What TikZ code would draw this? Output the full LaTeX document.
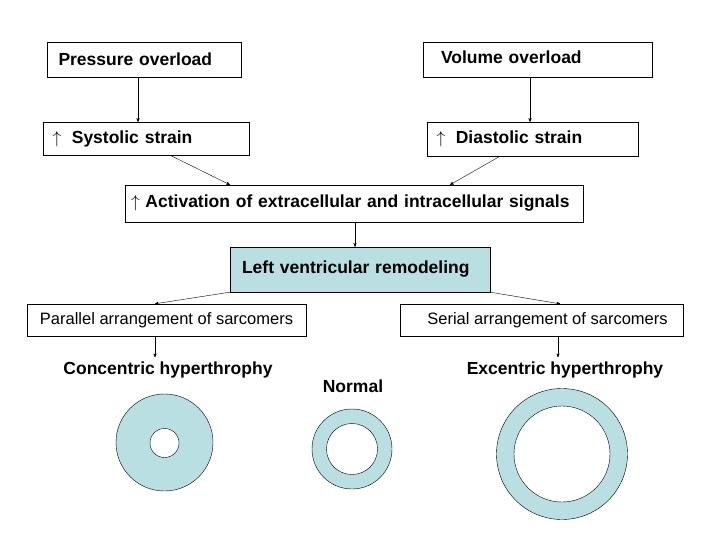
\documentclass[tikz,border=0pt]{standalone}
\usepackage{fontspec}
\setmainfont{Liberation Sans}
\usepackage{xcolor}
\usepackage{tikz}
\usetikzlibrary{arrows,positioning}
\definecolor{wall}{HTML}{B9DFE3}

\begin{document}
\begin{tikzpicture}[
    x=1pt, y=-1pt,
    >=stealth',
    box/.style={draw, inner ysep=0pt, align=left, font=\fontsize{17.5}{19}\selectfont\bfseries},
    thin box/.style={draw, inner ysep=0pt, font=\fontsize{16.5}{18}\selectfont},
    label/.style={font=\fontsize{17.5}{19}\selectfont\bfseries},
    ring/.style={draw, fill=wall}
]
    \useasboundingbox (0,0) rectangle (720,540);

    % Boxes
    \node (pressure) [box, text width=172, inner xsep=11, minimum height=35] at (144.5,59.5) {Pressure overload};
    \node (volume) [box, text width=193, inner xsep=18, minimum height=35] at (537.5,59.5) {\raisebox{4pt}{Volume overload}};
    \node (systolic) [box, text width=188, inner xsep=9, minimum height=33] at (146.5,138.5) {$\uparrow$\; Systolic strain};
    \node (diastolic) [box, text width=193, inner xsep=9, minimum height=34] at (533,139) {$\uparrow$\; Diastolic strain};
    \node (signals) [box, text width=446, inner xsep=6, minimum height=37] at (354,203.5) {$\uparrow$ Activation of extracellular and intracellular signals};
    \node (remodel) [box, fill=wall, text width=236, inner xsep=12, minimum height=45] at (360,269.5) {\raisebox{4pt}{Left ventricular remodeling}};
    \node (parallel) [thin box, minimum width=279, minimum height=32] at (166.5,320) {Parallel arrangement of sarcomers};
    \node (serial) [thin box, minimum width=283, minimum height=32] at (541.5,320) {\hspace{12pt}Serial arrangement of sarcomers};
    \node (concentric) [label] at (168,370) {Concentric hyperthrophy};
    \node (normal) [label] at (353,386) {Normal};
    \node (excentric) [label] at (565,370) {Excentric hyperthrophy};

    % Arrows
    \coordinate (s1) at (170,155); \coordinate (s2) at (230,185);
    \coordinate (d1) at (500,156); \coordinate (d2) at (450,185);
    \draw[->] (pressure.south -| 138,0) -- (systolic.north -| 138,0);
    \draw[->] (volume.south -| 530,0) -- (diastolic.north -| 530,0);
    \draw[->] (systolic.south -| s1) -- (signals.north -| s2);
    \draw[->] (diastolic.south -| d1) -- (signals.north -| d2);
    \draw[->] (signals.south -| 355,0) -- (remodel.north -| 355,0);
    \draw[->] (remodel.south west) -- (parallel.north -| 155,0);
    \draw[->] (remodel.south east) -- (serial.north -| 560,0);
    \draw[->] (parallel.south -| 155,0) -- ++(0,21) coordinate (c1);
    \draw[->] (serial.south -| 558,0) -- ++(0,21) coordinate (c2);

    % Hearts
    \draw[ring] (164.5,442.5) circle (48.5);
    \draw[fill=white] (164.5,443) circle (14.5);
    \draw[ring] (352,449) circle (40);
    \draw[fill=white] (352,449) circle (25.5);
    \draw[ring] (562,454) circle (65.5);
    \draw[fill=white] (562,454) circle (48);
\end{tikzpicture}
\end{document}
